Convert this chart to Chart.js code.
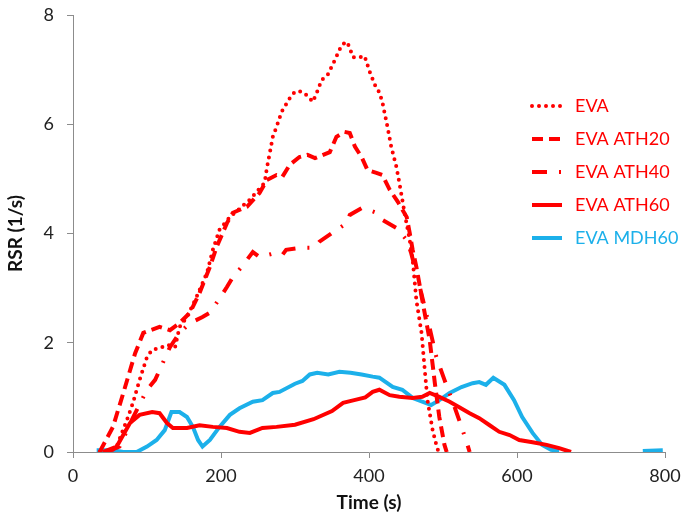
<!DOCTYPE html>
<html>
<head>
<meta charset="utf-8">
<script src="https://cdn.jsdelivr.net/npm/chart.js@4.4.1/dist/chart.umd.min.js"></script>
<style>
  html, body { margin: 0; padding: 0; background: #fff; }
</style>
</head>
<body>
<canvas id="rsrChart" width="683" height="518"></canvas>
<script>
// Time (s) and RSR (1/s)
const evaTime = [36, 50, 59, 73, 81, 90, 100, 107, 117, 128, 138, 144, 154, 167, 181, 189, 198, 212, 239, 259, 262, 266, 270, 275, 282, 293, 300, 309, 317, 324, 329, 336, 344, 354, 363, 370, 374, 378, 385, 394, 401, 408, 414, 418, 425, 430, 437, 441, 445, 448, 455, 459, 464, 471, 475, 479, 486, 491, 494];
const evaRsr = [0, 0, 0.1, 0.59, 0.9, 1.32, 1.74, 1.87, 1.9, 1.96, 1.92, 2.29, 2.47, 2.84, 3.28, 3.7, 4.07, 4.3, 4.62, 4.93, 5.2, 5.48, 5.77, 5.95, 6.23, 6.48, 6.6, 6.6, 6.52, 6.41, 6.56, 6.81, 6.9, 7.18, 7.45, 7.51, 7.4, 7.23, 7.22, 7.25, 6.96, 6.72, 6.58, 6.41, 5.95, 5.59, 5.22, 4.93, 4.62, 4.38, 3.88, 3.52, 2.78, 2.18, 1.56, 0.95, 0.4, 0.13, 0];

const ath20Time = [36, 54, 68, 84, 95, 117, 131, 144, 158, 171, 185, 194, 208, 216, 235, 252, 262, 275, 283, 293, 306, 317, 327, 347, 356, 367, 374, 381, 390, 398, 410, 418, 428, 439, 451, 455, 459, 464, 472, 482, 489, 495, 502, 505];
const ath20Rsr = [0, 0.46, 1.08, 1.81, 2.18, 2.29, 2.23, 2.36, 2.55, 2.91, 3.39, 3.75, 4.19, 4.38, 4.49, 4.74, 4.98, 5.07, 5.04, 5.26, 5.4, 5.44, 5.38, 5.49, 5.77, 5.86, 5.84, 5.59, 5.4, 5.16, 5.11, 5.07, 4.8, 4.58, 4.3, 4.01, 3.7, 3.39, 2.78, 2.05, 1.26, 0.64, 0.13, 0];

const ath40Time = [45, 63, 80, 100, 111, 120, 131, 144, 158, 175, 185, 194, 208, 216, 228, 243, 252, 273, 283, 288, 309, 326, 333, 350, 370, 374, 391, 410, 418, 437, 451, 457, 464, 478, 491, 502, 515, 525, 532, 536];
const ath40Rsr = [0, 0.1, 0.6, 1.14, 1.32, 1.59, 1.92, 2.18, 2.36, 2.47, 2.55, 2.73, 3.02, 3.2, 3.39, 3.66, 3.57, 3.64, 3.61, 3.7, 3.74, 3.74, 3.85, 4.01, 4.19, 4.34, 4.47, 4.38, 4.25, 4.1, 3.88, 3.64, 3.28, 2.5, 1.74, 1.32, 0.85, 0.46, 0.18, 0];

const ath60Time = [40, 59, 77, 90, 107, 117, 127, 135, 154, 171, 189, 208, 225, 239, 256, 275, 300, 325, 350, 365, 380, 395, 405, 414, 428, 441, 459, 472, 482, 495, 509, 522, 536, 549, 563, 576, 590, 603, 621, 640, 657, 673];
const ath60Rsr = [0, 0.1, 0.53, 0.68, 0.73, 0.71, 0.53, 0.44, 0.44, 0.49, 0.46, 0.44, 0.37, 0.35, 0.44, 0.46, 0.5, 0.6, 0.75, 0.9, 0.95, 1.0, 1.1, 1.14, 1.04, 1.01, 0.99, 1.01, 1.08, 1.01, 0.92, 0.82, 0.71, 0.62, 0.49, 0.37, 0.31, 0.22, 0.18, 0.13, 0.07, 0];

// null = no reading between the end of the run and the last samples
const mdh60Time = [32, 54, 68, 86, 100, 113, 124, 133, 144, 154, 162, 169, 175, 185, 198, 212, 225, 243, 256, 270, 279, 300, 310, 320, 330, 345, 360, 375, 390, 405, 414, 432, 445, 459, 472, 484, 495, 509, 525, 540, 549, 558, 568, 583, 596, 607, 621, 634, 646, 657, 700, 770, 797];
const mdh60Rsr = [0.03, 0.03, 0, 0, 0.1, 0.22, 0.4, 0.73, 0.73, 0.64, 0.46, 0.22, 0.1, 0.22, 0.46, 0.68, 0.8, 0.92, 0.95, 1.08, 1.1, 1.25, 1.3, 1.42, 1.45, 1.42, 1.47, 1.45, 1.42, 1.38, 1.36, 1.19, 1.14, 0.99, 0.92, 0.86, 0.95, 1.08, 1.19, 1.26, 1.28, 1.23, 1.36, 1.23, 0.95, 0.64, 0.35, 0.13, 0.04, 0.02, null, 0.02, 0.03];

const xTicks = [0, 200, 400, 600, 800];
const yTicks = [0, 2, 4, 6, 8];

const red = '#ff0000';
const blue = '#1cb0ea';
const axisGray = '#8c8c8c';
const fontFamily = 'Lato, "Open Sans", sans-serif';

function points(t, v) {
  return t.map((x, i) => ({ x: x, y: v[i] }));
}

// legend drawn Excel style, floating inside the plot at the right
const sideLegend = {
  id: 'sideLegend',
  afterDraw(chart) {
    const ctx = chart.ctx;
    const x0 = 532, len = 30, textX = 575;
    let y = 106;
    ctx.save();
    chart.data.datasets.forEach(ds => {
      ctx.beginPath();
      ctx.setLineDash(ds.borderDash || []);
      ctx.lineCap = ds.borderCapStyle || 'butt';
      ctx.lineWidth = ds.borderWidth;
      ctx.strokeStyle = ds.borderColor;
      ctx.moveTo(x0, y);
      ctx.lineTo(x0 + len, y);
      ctx.stroke();
      ctx.setLineDash([]);
      ctx.fillStyle = ds.borderColor;
      ctx.font = '18px ' + fontFamily;
      ctx.textBaseline = 'middle';
      ctx.fillText(ds.label, textX, y);
      y += 33;
    });
    ctx.restore();
  }
};

const ctx = document.getElementById('rsrChart').getContext('2d');
const rsrChart = new Chart(ctx, {
  type: 'scatter',
  data: {
    datasets: [{
      label: 'EVA',
      data: points(evaTime, evaRsr),
      borderColor: red,
      borderWidth: 4,
      borderDash: [0, 7],
      borderCapStyle: 'round'
    }, {
      label: 'EVA ATH20',
      data: points(ath20Time, ath20Rsr),
      borderColor: red,
      borderWidth: 4,
      borderDash: [11, 6]
    }, {
      label: 'EVA ATH40',
      data: points(ath40Time, ath40Rsr),
      borderColor: red,
      borderWidth: 4,
      borderDash: [15, 12, 2, 12]
    }, {
      label: 'EVA ATH60',
      data: points(ath60Time, ath60Rsr),
      borderColor: red,
      borderWidth: 4
    }, {
      label: 'EVA MDH60',
      data: points(mdh60Time, mdh60Rsr),
      borderColor: blue,
      borderWidth: 4
    }]
  },
  options: {
    responsive: false,
    animation: false,
    showLine: true,
    spanGaps: false,
    elements: {
      point: { radius: 0 },
      line: { tension: 0, fill: false }
    },
    layout: {
      padding: { left: 0, right: 18, top: 15, bottom: 0 }
    },
    plugins: {
      legend: { display: false },
      tooltip: { enabled: false }
    },
    scales: {
      x: {
        type: 'linear',
        min: 0,
        max: 800,
        afterBuildTicks: axis => { axis.ticks = xTicks.map(v => ({ value: v })); },
        afterFit: axis => { axis.height = 66; axis.paddingLeft = 0; axis.paddingRight = 0; },
        grid: { drawOnChartArea: false, drawTicks: true, tickLength: 6, color: axisGray },
        border: { display: true, color: axisGray, width: 1 },
        ticks: { color: '#222', font: { family: fontFamily, size: 18 }, padding: 7, maxRotation: 0 },
        title: { display: true, text: 'Time (s)', color: '#111', font: { family: fontFamily, size: 19, weight: 'bold' }, padding: { top: 2 } }
      },
      y: {
        type: 'linear',
        min: 0,
        max: 8,
        afterBuildTicks: axis => { axis.ticks = yTicks.map(v => ({ value: v })); },
        afterFit: axis => { axis.width = 73; axis.paddingTop = 0; axis.paddingBottom = 0; },
        grid: { drawOnChartArea: false, drawTicks: true, tickLength: 6, color: axisGray },
        border: { display: true, color: axisGray, width: 1 },
        ticks: { color: '#222', font: { family: fontFamily, size: 18 }, padding: 13 },
        title: { display: true, text: 'RSR (1/s)', color: '#111', font: { family: fontFamily, size: 19, weight: 'bold' }, padding: { bottom: 4 } }
      }
    }
  },
  plugins: [sideLegend]
});
</script>
</body>
</html>
